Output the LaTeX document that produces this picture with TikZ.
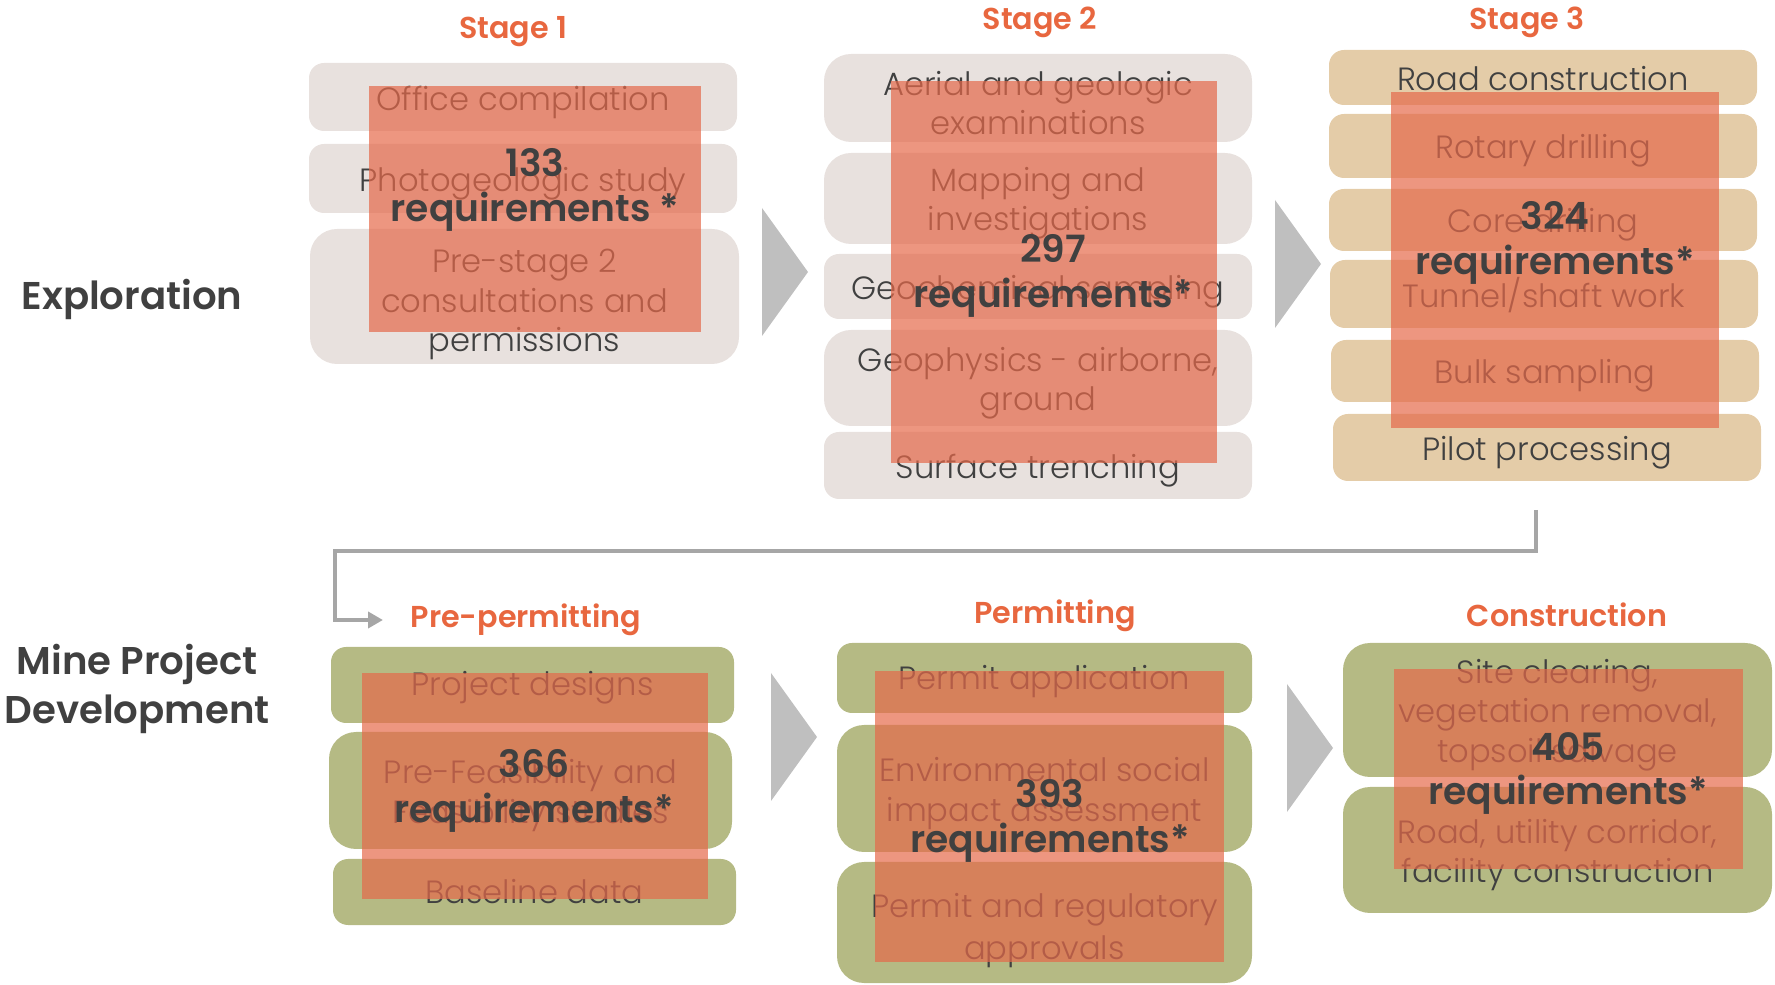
\documentclass[tikz,border=0pt]{standalone}
\usepackage{xcolor}
\usepackage{fontspec}
\setmainfont{Poppins}[BoldFont=* SemiBold]
\newfontfamily\boxfont{Poppins}[UprightFont=* Light]
\usepackage{tikz}
\usetikzlibrary{positioning}
\usetikzlibrary{arrows.meta}

\definecolor{paleclay}{HTML}{E8E1DE}
\definecolor{sand}{HTML}{E4CCA8}
\definecolor{olivebox}{HTML}{B5BA84}
\definecolor{veil}{HTML}{E5694A}
\definecolor{stageorange}{HTML}{E8673F}
\definecolor{inkgrey}{HTML}{404040}
\definecolor{chevgrey}{HTML}{BFBFBF}
\definecolor{linegrey}{HTML}{A6A6A6}

\begin{document}
\begin{tikzpicture}[
  thick,
  font=\boxfont
]
\tikzset{
    stepbox/.style = {rectangle, rounded corners=1.5mm, inner sep=0pt},
    tallbox/.style = {rounded corners=2.7mm},
    boxtext/.style = {align=center, inner sep=0pt, yshift=-0.5mm,
      text=inkgrey, font=\fontsize{9.15}{11.2}\selectfont\boxfont},
    expbox/.style = {stepbox, fill=paleclay},
    drillbox/.style = {stepbox, fill=sand},
    minebox/.style = {stepbox, fill=olivebox},
    reqpanel/.style = {rectangle, fill=veil, fill opacity=0.7, draw=none, inner sep=0pt},
    reqtext/.style = {align=center, text=inkgrey, font=\fontsize{10.7}{12.8}\selectfont\bfseries},
    stagetitle/.style = {text=stageorange, font=\fontsize{8.6}{10}\selectfont\bfseries},
    phaselabel/.style = {align=center, text=inkgrey, font=\fontsize{11}{13.8}\selectfont\bfseries},
    chevron/.style = {fill=chevgrey, draw=none},
    flowline/.style = {draw=linegrey, line width=1.2pt, -{Triangle[length=1.5mm,width=1.6mm]}}
}
\useasboundingbox (0,0) rectangle (17.75,-9.85);

% phase labels
\node[phaselabel] (explore) at (1.32,-2.99) {Exploration};
\node[phaselabel] (minedev) at (1.37,-6.89) {Mine Project\\Development};

% stage 1
\node[stagetitle] (t1) at (5.13,-0.32) {Stage 1};
\node[expbox, minimum width=4.28cm, minimum height=0.68cm,
  label={[boxtext]center:{Office compilation}}] (s1a) at (5.23,-0.97) {};
\node[expbox, minimum width=4.28cm, minimum height=0.69cm,
  label={[boxtext]center:{Photogeologic study}}] (s1b) at (5.23,-1.785) {};
\node[expbox, tallbox, minimum width=4.29cm, minimum height=1.35cm,
  label={[boxtext, yshift=-0.3mm]center:{Pre-stage 2\\consultations and\\permissions}}] (s1c) at (5.245,-2.965) {};
\node[reqpanel, minimum width=3.32cm, minimum height=2.46cm] (r1) at (5.35,-2.09) {};
\node[reqtext] (n1) at (5.35,-1.895) {133\\requirements *};

% stage 2
\node[stagetitle] (t2) at (10.40,-0.22) {Stage 2};
\node[expbox, tallbox, minimum width=4.28cm, minimum height=0.88cm,
  label={[boxtext]center:{Aerial and geologic\\examinations}}] (s2a) at (10.38,-0.98) {};
\node[expbox, tallbox, minimum width=4.28cm, minimum height=0.91cm,
  label={[boxtext]center:{Mapping and\\investigations}}] (s2b) at (10.38,-1.985) {};
\node[expbox, minimum width=4.28cm, minimum height=0.65cm,
  label={[boxtext]center:{Geochemical sampling}}] (s2c) at (10.38,-2.865) {};
\node[expbox, tallbox, minimum width=4.28cm, minimum height=0.96cm,
  label={[boxtext]center:{Geophysics - airborne,\\ground}}] (s2d) at (10.38,-3.78) {};
\node[expbox, minimum width=4.28cm, minimum height=0.67cm,
  label={[boxtext]center:{Surface trenching}}] (s2e) at (10.38,-4.655) {};
\node[reqpanel, minimum width=3.26cm, minimum height=3.82cm] (r2) at (10.54,-2.72) {};
\node[reqtext] (n2) at (10.53,-2.76) {297\\requirements*};

% stage 3
\node[stagetitle] (t3) at (15.27,-0.22) {Stage 3};
\node[drillbox, minimum width=4.28cm, minimum height=0.55cm,
  label={[boxtext, yshift=0.4mm]center:{Road construction}}] (s3a) at (15.43,-0.775) {};
\node[drillbox, minimum width=4.28cm, minimum height=0.64cm,
  label={[boxtext]center:{Rotary drilling}}] (s3b) at (15.43,-1.46) {};
\node[drillbox, minimum width=4.28cm, minimum height=0.62cm,
  label={[boxtext]center:{Core drilling}}] (s3c) at (15.43,-2.20) {};
\node[drillbox, minimum width=4.28cm, minimum height=0.68cm,
  label={[boxtext, yshift=0.4mm]center:{Tunnel/shaft work}}] (s3d) at (15.44,-2.94) {};
\node[drillbox, minimum width=4.28cm, minimum height=0.62cm,
  label={[boxtext]center:{Bulk sampling}}] (s3e) at (15.45,-3.71) {};
\node[drillbox, minimum width=4.28cm, minimum height=0.67cm,
  label={[boxtext]center:{Pilot processing}}] (s3f) at (15.47,-4.475) {};
\node[reqpanel, minimum width=3.28cm, minimum height=3.36cm] (r3) at (15.55,-2.60) {};
\node[reqtext] (n3) at (15.55,-2.425) {324\\requirements*};

% from exploration to mine project development
\coordinate (drop) at (15.36,-5.10);
\draw[flowline] (drop) |- (3.35,-5.51) |- (3.83,-6.20);

% pre-permitting
\node[stagetitle] (t4) at (5.26,-6.195) {Pre-permitting};
\node[minebox, minimum width=4.03cm, minimum height=0.76cm,
  label={[boxtext, yshift=0.2mm]center:{Project designs}}] (p1a) at (5.325,-6.85) {};
\node[minebox, tallbox, minimum width=4.03cm, minimum height=1.17cm,
  label={[boxtext]center:{Pre-Feasibility and\\Feasibility studies}}] (p1b) at (5.305,-7.905) {};
\node[minebox, minimum width=4.03cm, minimum height=0.66cm,
  label={[boxtext, yshift=0.5mm]center:{Baseline data}}] (p1c) at (5.345,-8.92) {};
\node[reqpanel, minimum width=3.46cm, minimum height=2.26cm] (r4) at (5.35,-7.86) {};
\node[reqtext] (n4) at (5.34,-7.905) {366\\requirements*};

% permitting
\node[stagetitle] (t5) at (10.55,-6.16) {Permitting};
\node[minebox, minimum width=4.15cm, minimum height=0.70cm,
  label={[boxtext, yshift=0.15mm]center:{Permit application}}] (p2a) at (10.445,-6.78) {};
\node[minebox, tallbox, minimum width=4.15cm, minimum height=1.27cm,
  label={[boxtext]center:{Environmental social\\impact assessment}}] (p2b) at (10.445,-7.885) {};
\node[minebox, tallbox, minimum width=4.15cm, minimum height=1.21cm,
  label={[boxtext, font=\fontsize{9.15}{11.9}\selectfont\boxfont, yshift=-0.3mm]center:{Permit and regulatory\\approvals}}] (p2c) at (10.445,-9.225) {};
\node[reqpanel, minimum width=3.49cm, minimum height=2.91cm] (r5) at (10.495,-8.165) {};
\node[reqtext] (n5) at (10.50,-8.205) {393\\requirements*};

% construction
\node[stagetitle] (t6) at (15.67,-6.15) {Construction};
\node[minebox, tallbox, minimum width=4.29cm, minimum height=1.34cm,
  label={[boxtext]center:{Site clearing,\\vegetation removal,\\topsoil salvage}}] (p3a) at (15.575,-7.10) {};
\node[minebox, tallbox, minimum width=4.29cm, minimum height=1.26cm,
  label={[boxtext]center:{Road, utility corridor,\\facility construction}}] (p3b) at (15.575,-8.50) {};
\node[reqpanel, minimum width=3.49cm, minimum height=2.00cm] (r6) at (15.685,-7.69) {};
\node[reqtext] (n6) at (15.68,-7.735) {405\\requirements*};

% chevrons between stages
\foreach \cx/\cy in {7.62/-2.08, 12.75/-2.00, 7.71/-6.73, 12.87/-6.84}
  \fill[chevron] (\cx,\cy) -- ++(0.46,-0.64) -- ++(-0.46,-0.64) -- cycle;
\end{tikzpicture}
\end{document}
